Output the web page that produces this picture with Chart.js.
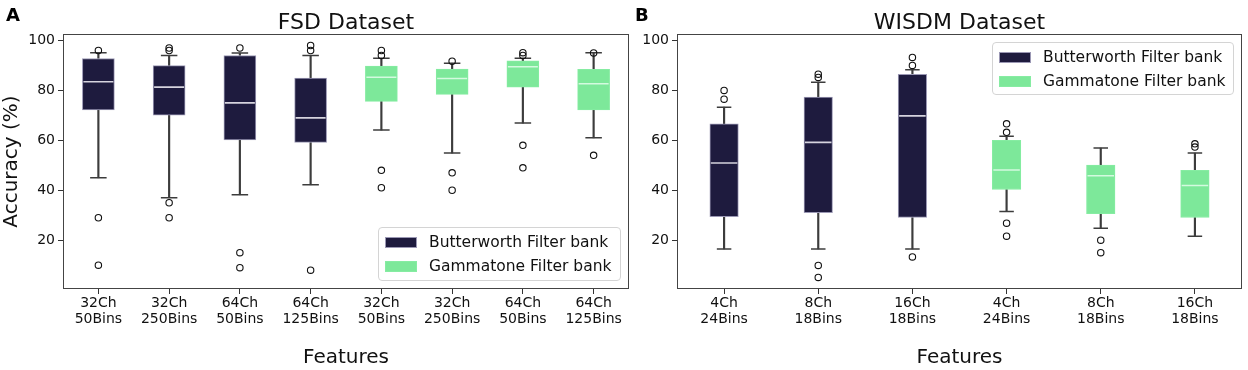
<!DOCTYPE html>
<html><head><meta charset="utf-8">
<script src="https://cdn.jsdelivr.net/npm/chart.js@4.4.1/dist/chart.umd.min.js"></script>
<style>
body{margin:0;background:#fff;width:1248px;height:370px;overflow:hidden;position:relative;font-family:'DejaVu Sans',sans-serif;}
canvas{position:absolute;top:0;}
.panel{position:absolute;font-weight:bold;font-size:18px;line-height:18px;color:#000;}
.legend{position:absolute;box-sizing:border-box;border:1px solid #d4d4d4;border-radius:4px;background:rgba(255,255,255,0.85);padding:2px 0 0 6px;font-size:15.5px;color:#111;}
.row{display:flex;align-items:center;height:24px;white-space:nowrap;}
.sw{width:32px;height:11px;margin-right:12px;box-sizing:border-box;}
</style></head>
<body>
<canvas id="fsd" width="630" height="370" style="left:0"></canvas>
<canvas id="wisdm" width="618" height="370" style="left:630px"></canvas>
<div class="panel" style="left:6px;top:6px">A</div>
<div class="panel" style="left:635px;top:6px">B</div>
<div class="legend" id="legA" style="left:378px;top:227px;width:243px;height:54px"></div>
<div class="legend" id="legB" style="left:992px;top:42px;width:242px;height:53px"></div>
<script>
// ---------- data ----------
const fsdCategories = [['32Ch','50Bins'],['32Ch','250Bins'],['64Ch','50Bins'],['64Ch','125Bins'],['32Ch','50Bins'],['32Ch','250Bins'],['64Ch','50Bins'],['64Ch','125Bins']];
const fsdBank = ['Butterworth','Butterworth','Butterworth','Butterworth','Gammatone','Gammatone','Gammatone','Gammatone'];
const fsdQ1 = [72.2, 70.1, 60.2, 59.2, 75.6, 78.4, 81.3, 72.2];
const fsdQ3 = [92.8, 89.9, 94.0, 84.9, 89.7, 88.5, 91.9, 88.4];
const fsdMedian = [83.5, 81.3, 75.0, 69.0, 85.3, 84.8, 89.5, 82.7];
const fsdWhiskerLow = [45.0, 37.0, 38.2, 42.2, 64.1, 54.9, 66.9, 61.0];
const fsdWhiskerHigh = [95.1, 94.0, 95.0, 94.0, 92.9, 90.9, 92.9, 95.1];
const fsdOutliers = [[96, 29, 10], [97, 96, 35, 29], [97, 15, 9], [98, 96, 8], [96, 94, 48, 41], [91.7, 47, 40], [95.1, 94, 58, 49], [95, 54]];

const wisdmCategories = [['4Ch','24Bins'],['8Ch','18Bins'],['16Ch','18Bins'],['4Ch','24Bins'],['8Ch','18Bins'],['16Ch','18Bins']];
const wisdmBank = ['Butterworth','Butterworth','Butterworth','Gammatone','Gammatone','Gammatone'];
const wisdmQ1 = [29.4, 31.0, 29.1, 40.3, 30.6, 29.1];
const wisdmQ3 = [66.6, 77.3, 86.4, 60.0, 50.1, 48.0];
const wisdmMedian = [50.9, 59.2, 69.8, 48.1, 45.8, 41.9];
const wisdmWhiskerLow = [16.5, 16.5, 16.5, 31.5, 24.8, 21.6];
const wisdmWhiskerHigh = [73.3, 83.3, 88.3, 61.6, 56.9, 54.9];
const wisdmOutliers = [[80, 76.5], [86.5, 85.2, 9.9, 5.1], [93.2, 90, 13.3], [66.6, 63.2, 26.8, 21.6], [20, 15], [58.6, 57.3]];

const yTicks = [20, 40, 60, 80, 100];
const seriesNames = { Butterworth: 'Butterworth Filter bank', Gammatone: 'Gammatone Filter bank' };

// ---------- style ----------
const STYLE = {
  Butterworth: { fill: '#1e1b3e', edge: '#9b98b4', median: '#d6d4de' },
  Gammatone: { fill: '#7de89a', edge: '#86eca2', median: '#d4fadf' }
};
const WHISKER = '#3c3c3c';
Chart.defaults.font.family = "'DejaVu Sans', sans-serif";
Chart.defaults.color = '#111';

const framePlugin = {
  id: 'frame',
  afterLayout(chart) {
    const t = chart.titleBlock, a = chart.chartArea;
    if (t) { t.left = a.left; t.right = a.right; t.width = a.right - a.left; }
  },
  afterDraw(chart) {
    const { ctx, chartArea: a } = chart;
    ctx.save();
    ctx.strokeStyle = '#444';
    ctx.lineWidth = 1;
    ctx.strokeRect(Math.round(a.left) + 0.5, Math.round(a.top) + 0.5, Math.round(a.right - a.left) - 1, Math.round(a.bottom - a.top) - 1);
    ctx.restore();
  }
};

function buildChart(id, o) {
  const n = o.categories.length;
  const idx = [...Array(n).keys()];
  const boxDs = bank => ({
    type: 'bar', label: seriesNames[bank],
    data: idx.map(i => o.bank[i] === bank ? [o.q1[i], o.q3[i]] : null),
    backgroundColor: STYLE[bank].fill, borderColor: STYLE[bank].edge, borderWidth: 1,
    borderSkipped: false, barThickness: o.boxW, grouped: false, order: 3
  });
  const whisk = (lo, hi) => ({
    type: 'bar', data: idx.map(i => [lo[i], hi[i]]),
    backgroundColor: WHISKER, borderWidth: 0, barThickness: 1.5, grouped: false, order: 5
  });
  const pts = (data, style) => Object.assign({ type: 'line', data, showLine: false, order: 4 }, style);
  const maxOut = Math.max(...o.out.map(a => a.length));
  const outDs = [];
  for (let k = 0; k < maxOut; k++) {
    outDs.push(pts(idx.map(i => o.out[i][k] ?? null), {
      pointStyle: 'circle', pointRadius: 3.2, pointBorderColor: '#111',
      pointBackgroundColor: 'rgba(255,255,255,0)', pointBorderWidth: 1.1, order: 0
    }));
  }
  const datasets = [
    boxDs('Butterworth'), boxDs('Gammatone'),
    whisk(o.lo, o.q1), whisk(o.q3, o.hi),
    pts(o.lo, { pointStyle: 'line', pointRadius: o.capW / 2, pointBorderColor: WHISKER, pointBorderWidth: 1.5 }),
    pts(o.hi, { pointStyle: 'line', pointRadius: o.capW / 2, pointBorderColor: WHISKER, pointBorderWidth: 1.5 }),
    pts(o.med, { pointStyle: 'line', pointRadius: o.boxW / 2 - 1, pointBorderColor: idx.map(i => STYLE[o.bank[i]].median), pointBorderWidth: 1.6, order: 1 }),
    ...outDs
  ];
  return new Chart(document.getElementById(id), {
    type: 'bar',
    data: { labels: o.categories, datasets },
    plugins: [framePlugin],
    options: {
      responsive: false, animation: false, events: [],
      layout: { autoPadding: false, padding: { left: 0, right: o.padRight, top: 0, bottom: 0 } },
      plugins: {
        legend: { display: false }, tooltip: { enabled: false },
        title: { display: true, text: o.title, color: '#111', font: { size: 22, weight: 'normal', lineHeight: 1 }, padding: { top: 12, bottom: 0 } }
      },
      scales: {
        x: {
          offset: true,
          afterFit: s => { s.height = 81; s.paddingLeft = 0; s.paddingRight = 0; },
          grid: { display: true, offset: false, drawOnChartArea: false, drawTicks: true, tickLength: 5, color: '#333' },
          border: { display: false },
          ticks: { font: { size: 14, lineHeight: 1.15 }, color: '#111', padding: 1, maxRotation: 0, autoSkip: false },
          title: { display: true, text: 'Features', color: '#111', font: { size: 20 }, padding: { top: 0, bottom: 0 } }
        },
        y: {
          min: 0.45, max: 102.6,
          afterBuildTicks: s => { s.ticks = yTicks.map(v => ({ value: v })); },
          afterFit: s => { s.width = o.yAxisW; s.paddingTop = 0; s.paddingBottom = 0; },
          grid: { display: true, drawOnChartArea: false, drawTicks: true, tickLength: 5, color: '#333' },
          border: { display: false },
          ticks: { font: { size: 14 }, color: '#111', padding: 3 },
          title: { display: !!o.yTitle, text: o.yTitle || '', color: '#111', font: { size: 20 }, padding: { top: 0, bottom: 0 } }
        }
      }
    }
  });
}

buildChart('fsd', {
  title: 'FSD Dataset', yTitle: 'Accuracy (%)', categories: fsdCategories, bank: fsdBank,
  q1: fsdQ1, q3: fsdQ3, med: fsdMedian, lo: fsdWhiskerLow, hi: fsdWhiskerHigh, out: fsdOutliers,
  boxW: 32, capW: 16.5, yAxisW: 63, padRight: 1
});
buildChart('wisdm', {
  title: 'WISDM Dataset', yTitle: '', categories: wisdmCategories, bank: wisdmBank,
  q1: wisdmQ1, q3: wisdmQ3, med: wisdmMedian, lo: wisdmWhiskerLow, hi: wisdmWhiskerHigh, out: wisdmOutliers,
  boxW: 28.5, capW: 14.5, yAxisW: 47, padRight: 6
});

function buildLegend(id) {
  const el = document.getElementById(id);
  ['Butterworth', 'Gammatone'].forEach(b => {
    const row = document.createElement('div'); row.className = 'row';
    const sw = document.createElement('span'); sw.className = 'sw';
    sw.style.background = STYLE[b].fill; sw.style.border = '1px solid ' + STYLE[b].edge;
    const tx = document.createElement('span'); tx.textContent = seriesNames[b];
    row.appendChild(sw); row.appendChild(tx); el.appendChild(row);
  });
}
buildLegend('legA'); buildLegend('legB');
</script>
</body></html>
